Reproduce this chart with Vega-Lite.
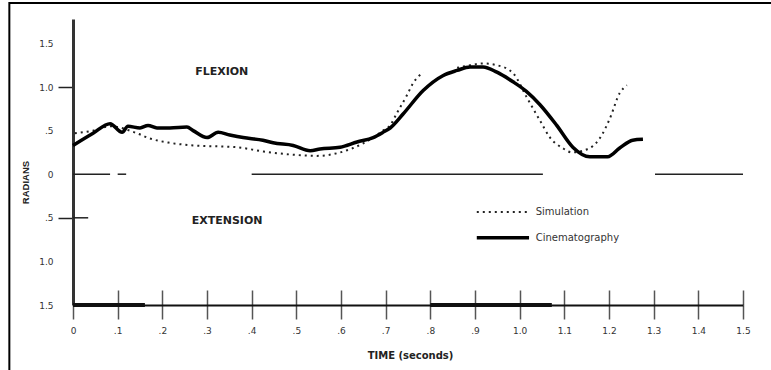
{
  "$schema": "https://vega.github.io/schema/vega-lite/v6.json",
  "width": 670,
  "height": 286,
  "autosize": {"type": "none"},
  "padding": {"left": 73, "top": 19, "right": 28, "bottom": 65},
  "background": "white",
  "config": {"view": {"stroke": null}, "font": "DejaVu Sans"},
  "datasets": {
    "frame": [{"t": -0.1425, "t2": 1.7, "v": 1.963, "v2": -2.5}],
    "zero": [
      {"t": 0, "t2": 0.083, "v": 0},
      {"t": 0.1, "t2": 0.119, "v": 0},
      {"t": 0.4, "t2": 1.052, "v": 0},
      {"t": 1.303, "t2": 1.5, "v": 0},
      {"t": 0, "t2": 0.034, "v": -0.5}
    ],
    "thick": [
      {"t": 0, "t2": 0.161, "v": -1.5},
      {"t": 0.8, "t2": 1.072, "v": -1.5}
    ],
    "cine": [
      {"t": 0, "v": 0.33}, {"t": 0.045, "v": 0.47}, {"t": 0.083, "v": 0.58}, {"t": 0.11, "v": 0.48},
      {"t": 0.123, "v": 0.55}, {"t": 0.15, "v": 0.53}, {"t": 0.168, "v": 0.56}, {"t": 0.188, "v": 0.53},
      {"t": 0.217, "v": 0.53}, {"t": 0.255, "v": 0.54}, {"t": 0.269, "v": 0.5}, {"t": 0.3, "v": 0.42},
      {"t": 0.325, "v": 0.48}, {"t": 0.351, "v": 0.45}, {"t": 0.381, "v": 0.42}, {"t": 0.425, "v": 0.39},
      {"t": 0.448, "v": 0.36}, {"t": 0.493, "v": 0.33}, {"t": 0.531, "v": 0.27}, {"t": 0.553, "v": 0.29},
      {"t": 0.598, "v": 0.31}, {"t": 0.636, "v": 0.37}, {"t": 0.672, "v": 0.42}, {"t": 0.694, "v": 0.48},
      {"t": 0.71, "v": 0.53}, {"t": 0.739, "v": 0.69}, {"t": 0.784, "v": 0.96}, {"t": 0.828, "v": 1.13},
      {"t": 0.86, "v": 1.19}, {"t": 0.889, "v": 1.23}, {"t": 0.918, "v": 1.23}, {"t": 0.949, "v": 1.17},
      {"t": 0.985, "v": 1.06}, {"t": 1.015, "v": 0.95}, {"t": 1.045, "v": 0.8}, {"t": 1.083, "v": 0.56},
      {"t": 1.119, "v": 0.31}, {"t": 1.157, "v": 0.2}, {"t": 1.197, "v": 0.2}, {"t": 1.224, "v": 0.3},
      {"t": 1.253, "v": 0.39}, {"t": 1.276, "v": 0.4}
    ],
    "sim": [
      {"seg": "a", "t": 0.004, "v": 0.47}, {"seg": "a", "t": 0.045, "v": 0.5}, {"seg": "a", "t": 0.083, "v": 0.55},
      {"seg": "a", "t": 0.143, "v": 0.47}, {"seg": "a", "t": 0.172, "v": 0.41}, {"seg": "a", "t": 0.217, "v": 0.36},
      {"seg": "a", "t": 0.269, "v": 0.33}, {"seg": "a", "t": 0.366, "v": 0.31}, {"seg": "a", "t": 0.427, "v": 0.26},
      {"seg": "a", "t": 0.502, "v": 0.22}, {"seg": "a", "t": 0.546, "v": 0.21}, {"seg": "a", "t": 0.591, "v": 0.24},
      {"seg": "a", "t": 0.627, "v": 0.3}, {"seg": "a", "t": 0.672, "v": 0.42}, {"seg": "a", "t": 0.694, "v": 0.5},
      {"seg": "a", "t": 0.71, "v": 0.56}, {"seg": "a", "t": 0.725, "v": 0.7}, {"seg": "a", "t": 0.747, "v": 0.9},
      {"seg": "a", "t": 0.761, "v": 1.04}, {"seg": "a", "t": 0.784, "v": 1.17},
      {"seg": "b", "t": 0.86, "v": 1.22}, {"seg": "b", "t": 0.889, "v": 1.25}, {"seg": "b", "t": 0.918, "v": 1.27},
      {"seg": "b", "t": 0.949, "v": 1.25}, {"seg": "b", "t": 0.985, "v": 1.16}, {"seg": "b", "t": 1.016, "v": 0.88},
      {"seg": "b", "t": 1.045, "v": 0.62}, {"seg": "b", "t": 1.068, "v": 0.42}, {"seg": "b", "t": 1.096, "v": 0.3},
      {"seg": "b", "t": 1.117, "v": 0.25}, {"seg": "b", "t": 1.157, "v": 0.3}, {"seg": "b", "t": 1.184, "v": 0.45},
      {"seg": "b", "t": 1.202, "v": 0.64}, {"seg": "b", "t": 1.224, "v": 0.93}, {"seg": "b", "t": 1.24, "v": 1.02}
    ],
    "regions": [
      {"t": 0.333, "v": 1.17, "label": "FLEXION"},
      {"t": 0.345, "v": -0.54, "label": "EXTENSION"}
    ],
    "legSim": [{"t": 0.904, "t2": 1.019, "v": -0.433}],
    "legCine": [{"t": 0.904, "t2": 1.021, "v": -0.73}],
    "legText": [
      {"t": 1.036, "v": -0.433, "label": "Simulation"},
      {"t": 1.036, "v": -0.73, "label": "Cinematography"}
    ]
  },
  "encoding": {
    "x": {"field": "t", "type": "quantitative", "scale": {"domain": [0, 1.5], "nice": false, "zero": false}, "axis": null},
    "y": {"field": "v", "type": "quantitative", "scale": {"domain": [-1.5, 1.78], "nice": false, "zero": false}, "axis": null}
  },
  "resolve": {"axis": {"x": "independent", "y": "independent"}},
  "layer": [
    {
      "data": {"name": "frame"},
      "mark": {"type": "rect", "filled": false, "color": "#000", "strokeWidth": 2, "clip": false},
      "encoding": {"x2": {"field": "t2"}, "y2": {"field": "v2"}}
    },
    {
      "data": {"name": "zero"},
      "mark": {"type": "rule", "color": "#222", "strokeWidth": 1.5},
      "encoding": {
        "x": {"field": "t", "type": "quantitative", "scale": {"domain": [0, 1.5], "nice": false, "zero": false},
          "axis": {"orient": "top", "offset": -286, "values": [0.1, 0.2, 0.3, 0.4, 0.5, 0.6, 0.7, 0.8, 0.9, 1.0, 1.1, 1.2, 1.3, 1.4, 1.5],
            "tickSize": 15, "tickColor": "#555", "tickWidth": 1.5, "labels": false, "domain": false, "grid": false, "title": null}},
        "x2": {"field": "t2"}
      }
    },
    {
      "data": {"name": "thick"},
      "mark": {"type": "rule", "color": "#111", "strokeWidth": 4},
      "encoding": {"x2": {"field": "t2"}}
    },
    {
      "data": {"name": "sim"},
      "mark": {"type": "line", "color": "#222", "strokeWidth": 2, "strokeDash": [2, 4], "interpolate": "monotone"},
      "encoding": {"detail": {"field": "seg"}}
    },
    {
      "data": {"name": "cine"},
      "mark": {"type": "line", "color": "#000", "strokeWidth": 3.5, "interpolate": "monotone"},
      "encoding": {
        "x": {"field": "t", "type": "quantitative", "scale": {"domain": [0, 1.5], "nice": false, "zero": false},
          "axis": {"orient": "bottom", "values": [0, 0.1, 0.2, 0.3, 0.4, 0.5, 0.6, 0.7, 0.8, 0.9, 1.0, 1.1, 1.2, 1.3, 1.4, 1.5],
            "labelExpr": "datum.value == 0 ? '0' : datum.value < 0.95 ? '.' + format(datum.value * 10, '.0f') : format(datum.value, '.1f')",
            "tickSize": 14, "tickColor": "#555", "tickWidth": 1.5, "domainColor": "#111", "domainWidth": 2,
            "labelFont": "DejaVu Sans", "labelFontSize": 9, "labelColor": "#333", "labelPadding": 7, "labelFlush": false,
            "grid": false, "title": "TIME (seconds)", "titleFont": "DejaVu Sans", "titleFontSize": 10, "titleFontWeight": "bold",
            "titleColor": "#222", "titleX": 337, "titleY": 50, "titleAlign": "center", "titleBaseline": "middle"}},
        "y": {"field": "v", "type": "quantitative", "scale": {"domain": [-1.5, 1.78], "nice": false, "zero": false},
          "axis": {"orient": "left", "values": [-1.5, -1, -0.5, 0, 0.5, 1, 1.5],
            "labelExpr": "datum.value == 0 ? '0' : abs(datum.value) == 0.5 ? '.5' : format(abs(datum.value), '.1f')",
            "tickSize": 15, "tickColor": "#222", "tickWidth": 1.5,
            "tickOpacity": {"condition": {"test": "datum.value == 1 || datum.value == -0.5", "value": 1}, "value": 0},
            "domainColor": "#333", "domainWidth": 3, "labelFont": "DejaVu Sans", "labelFontSize": 9, "labelColor": "#333",
            "labelPadding": 5, "labelFlush": false, "grid": false,
            "title": "RADIANS", "titleFont": "Liberation Sans", "titleFontSize": 9.5, "titleFontWeight": "bold", "titleColor": "#222",
            "titleAngle": -90, "titleX": -48, "titleY": 163, "titleAlign": "center", "titleBaseline": "middle"}}
      }
    },
    {
      "data": {"name": "regions"},
      "mark": {"type": "text", "font": "DejaVu Sans", "fontSize": 11, "fontWeight": "bold", "color": "#222", "align": "center", "baseline": "middle"},
      "encoding": {"text": {"field": "label"}}
    },
    {
      "data": {"name": "legSim"},
      "mark": {"type": "rule", "color": "#222", "strokeWidth": 2, "strokeDash": [2, 4]},
      "encoding": {"x2": {"field": "t2"}}
    },
    {
      "data": {"name": "legCine"},
      "mark": {"type": "rule", "color": "#000", "strokeWidth": 3.5},
      "encoding": {"x2": {"field": "t2"}}
    },
    {
      "data": {"name": "legText"},
      "mark": {"type": "text", "font": "DejaVu Sans", "fontSize": 10, "color": "#333", "align": "left", "baseline": "middle"},
      "encoding": {"text": {"field": "label"}}
    }
  ]
}
